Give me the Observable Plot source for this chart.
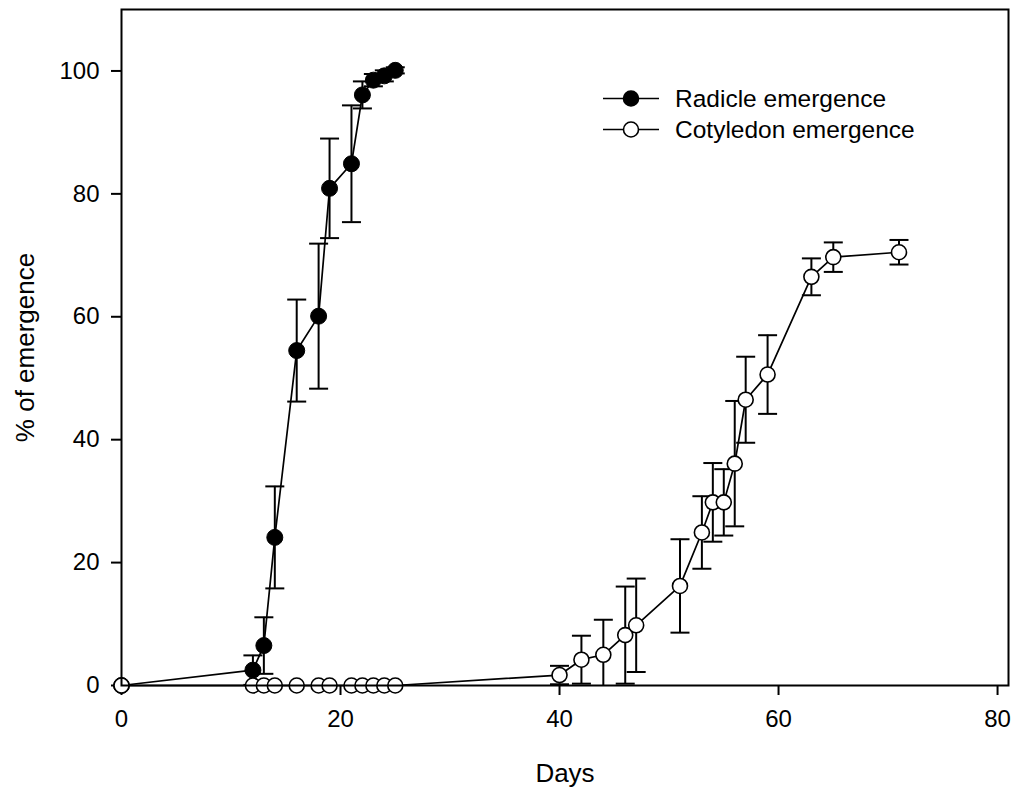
<!DOCTYPE html>
<html>
<head>
<meta charset="utf-8">
<script src="https://cdn.jsdelivr.net/npm/d3@7"></script>
<script src="https://cdn.jsdelivr.net/npm/@observablehq/plot@0.6"></script>
<style>
  html, body { margin: 0; padding: 0; background: #fff; }
  #wrap { position: relative; width: 1017px; height: 796px; font-family: "Liberation Sans", Arial, sans-serif; }
  #legend { position: absolute; left: 602px; top: 83px; font-size: 24.5px; color: #000; }
  .row { display: flex; align-items: center; height: 31px; }
  .row svg { margin-right: 15px; }
</style>
</head>
<body>
<div id="wrap"><div id="legend"></div></div>
<script>
// ---- data ----
const radicleDays = [0, 12, 13, 14, 16, 18, 19, 21, 22, 23, 24, 25];
const radicleMean = [0, 2.5, 6.5, 24.1, 54.5, 60.1, 80.9, 84.9, 96.1, 98.5, 99.2, 100.1];
const radicleErr  = [0, 2.4, 4.6, 8.3, 8.3, 11.8, 8.1, 9.5, 2.2, 1.0, 0.9, 0.5];

const cotDays = [0, 12, 13, 14, 16, 18, 19, 21, 22, 23, 24, 25, 40, 42, 44, 46, 47, 51, 53, 54, 55, 56, 57, 59, 63, 65, 71];
const cotMean = [0, 0, 0, 0, 0, 0, 0, 0, 0, 0, 0, 0, 1.7, 4.2, 5.0, 8.2, 9.8, 16.2, 24.9, 29.8, 29.8, 36.1, 46.5, 50.6, 66.5, 69.7, 70.5];
const cotErr  = [0, 0, 0, 0, 0, 0, 0, 0, 0, 0, 0, 0, 1.5, 3.9, 5.7, 7.9, 7.6, 7.6, 5.9, 6.4, 5.4, 10.2, 7.0, 6.4, 3.0, 2.4, 2.0];

const seriesNames = ["Radicle emergence", "Cotyledon emergence"];
const xTicks = [0, 20, 40, 60, 80];
const yTicks = [0, 20, 40, 60, 80, 100];
const xLabel = "Days";
const yLabel = "% of emergence";

// ---- build tables ----
const radicle = radicleDays.map((d, i) => ({day: d, mean: radicleMean[i], err: radicleErr[i]}));
const cot = cotDays.map((d, i) => ({day: d, mean: cotMean[i], err: cotErr[i]}));

const capSymbol = {
  draw(context, size) {
    const w = Math.sqrt(size / Math.PI);
    context.moveTo(-w, 0);
    context.lineTo(w, 0);
  }
};

function errMarks(data) {
  const e = data.filter(d => d.err > 0);
  return [
    Plot.ruleX(e, {x: "day", y1: d => d.mean - d.err, y2: d => d.mean + d.err, stroke: "black", strokeWidth: 2, clip: true}),
    Plot.dot(e, {x: "day", y: d => d.mean + d.err, symbol: capSymbol, r: 9.5, stroke: "black", strokeWidth: 2, fill: "none"}),
    Plot.dot(e, {x: "day", y: d => d.mean - d.err, symbol: capSymbol, r: 9.5, stroke: "black", strokeWidth: 2, fill: "none", clip: true})
  ];
}

const chart = Plot.plot({
  width: 1017,
  height: 796,
  marginLeft: 121,
  marginRight: 9,
  marginTop: 9,
  marginBottom: 111,
  style: {fontFamily: "'Liberation Sans', Arial, sans-serif", fontSize: "24px", color: "black", background: "white"},
  x: {domain: [0, 81]},
  y: {domain: [0, 110]},
  marks: [
    Plot.axisX({ticks: xTicks, tickSize: 10, tickPadding: 14, fontSize: 24, label: null, stroke: "black", strokeWidth: 2}),
    Plot.axisY({ticks: yTicks, tickSize: 10, tickPadding: 12, fontSize: 24, label: null, stroke: "black", strokeWidth: 2}),
    Plot.text([xLabel], {frameAnchor: "bottom", textAnchor: "middle", lineAnchor: "top", dy: 78, fontSize: 26, fill: "black"}),
    Plot.text([yLabel], {frameAnchor: "left", textAnchor: "middle", lineAnchor: "middle", dx: -96, rotate: -90, fontSize: 26, fill: "black"}),
    ...errMarks(radicle),
    Plot.line(radicle, {x: "day", y: "mean", stroke: "black", strokeWidth: 1.7}),
    Plot.dot(radicle, {x: "day", y: "mean", r: 8, fill: "black", stroke: "black", strokeWidth: 1}),
    ...errMarks(cot),
    Plot.line(cot, {x: "day", y: "mean", stroke: "black", strokeWidth: 1.7}),
    Plot.dot(cot, {x: "day", y: "mean", r: 7.5, fill: "white", stroke: "black", strokeWidth: 1.6}),
    Plot.frame({stroke: "black", strokeWidth: 2})
  ]
});
document.getElementById("wrap").prepend(chart);

// ---- legend ----
const legend = document.getElementById("legend");
seriesNames.forEach((name, i) => {
  const row = document.createElement("div");
  row.className = "row";
  row.innerHTML = `<svg width="58" height="31"><line x1="1" x2="57" y1="15.5" y2="15.5" stroke="black" stroke-width="1.7"/><circle cx="29" cy="15.5" r="7.5" fill="${i === 0 ? "black" : "white"}" stroke="black" stroke-width="1.6"/></svg><span>${name}</span>`;
  legend.appendChild(row);
});
</script>
</body>
</html>
